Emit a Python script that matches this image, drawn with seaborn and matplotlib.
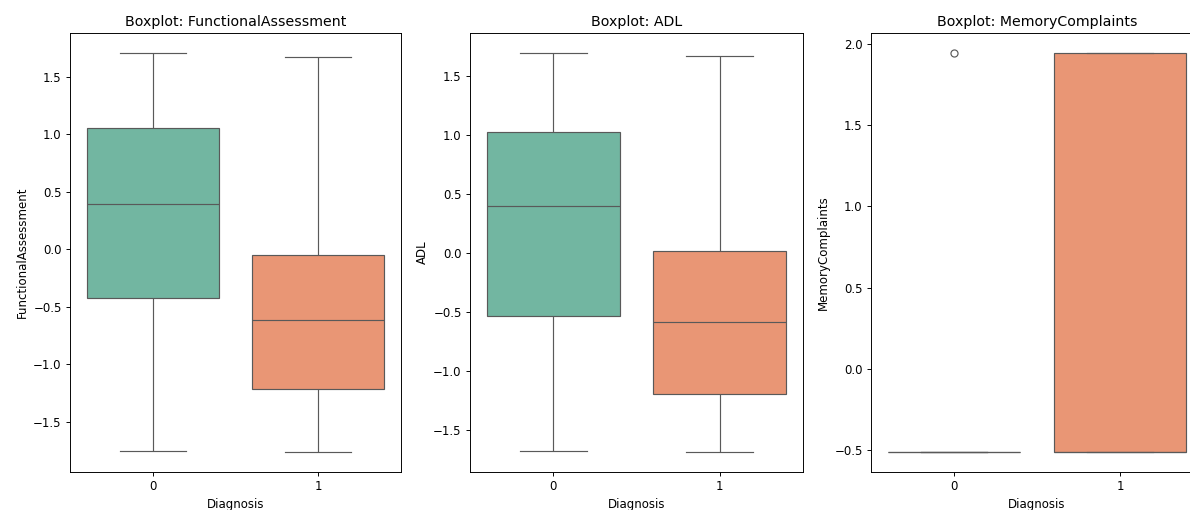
import numpy as np
import pandas as pd
import matplotlib
matplotlib.use("Agg")
import matplotlib.pyplot as plt
import seaborn as sns

# Standardized feature values per diagnosis group (0 = no Alzheimer's, 1 = Alzheimer's)
diagnosis_groups = [0, 1]

functional_assessment_0 = [-1.752, -0.423, 0.397, 1.055, 1.706]
functional_assessment_1 = [-1.763, -1.211, -0.613, -0.052, 1.668]

adl_0 = [-1.684, -0.531, 0.402, 1.029, 1.699]
adl_1 = [-1.689, -1.197, -0.588, 0.020, 1.670]

memory_complaints_0 = [-0.514, -0.514, -0.514, -0.514, 1.946]
memory_complaints_1 = [-0.514, -0.514, -0.514, 1.946, 1.946]

features = ["FunctionalAssessment", "ADL", "MemoryComplaints"]
feature_values = {
    "FunctionalAssessment": [functional_assessment_0, functional_assessment_1],
    "ADL": [adl_0, adl_1],
    "MemoryComplaints": [memory_complaints_0, memory_complaints_1],
}

W, H = 1190, 510
fig = plt.figure(figsize=(W / 85, H / 85), dpi=85)

# Axes placement in pixels: (left, right), shared top/bottom
x_spans = [(70, 401), (470, 803), (871, 1203)]
top_px, bottom_px = 33, 472

for feat, (x0, x1) in zip(features, x_spans):
    ax = fig.add_axes([x0 / W, (H - bottom_px) / H, (x1 - x0) / W, (bottom_px - top_px) / H])
    rows = []
    for grp, vals in zip(diagnosis_groups, feature_values[feat]):
        for v in vals:
            rows.append({"Diagnosis": grp, feat: v})
    df = pd.DataFrame(rows)
    sns.boxplot(data=df, x="Diagnosis", y=feat, hue="Diagnosis",
                palette="Set2", legend=False, ax=ax)
    ax.set_title(f"Boxplot: {feat}")

fig.savefig("out.png", dpi=85)
